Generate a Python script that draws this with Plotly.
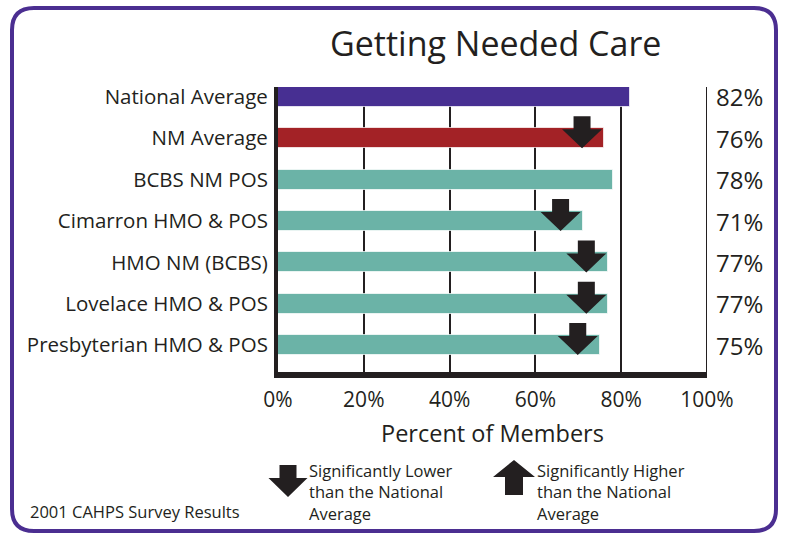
import plotly.graph_objects as go

# ---------------- data ----------------
categories = ["National Average", "NM Average", "BCBS NM POS", "Cimarron HMO & POS",
              "HMO NM (BCBS)", "Lovelace HMO & POS", "Presbyterian HMO & POS"]
values = [82, 76, 78, 71, 77, 77, 75]
flags = ["", "down", "", "down", "down", "down", "down"]
bar_colors = ["#472F92", "#A32226", "#6BB3A7", "#6BB3A7", "#6BB3A7", "#6BB3A7", "#6BB3A7"]
x_tick_vals = [0, 20, 40, 60, 80, 100]
x_tick_labels = ["0%", "20%", "40%", "60%", "80%", "100%"]
title_text = "Getting Needed Care"
x_title = "Percent of Members"
legend_lower = ["Significantly Lower", "than the National", "Average"]
legend_higher = ["Significantly Higher", "than the National", "Average"]
footnote = "2001 CAHPS Survey Results"

FONT = "Open Sans, sans-serif"
INK = "#231F20"
PURPLE = "#4B2E91"

ypos = list(range(len(categories)))

fig = go.Figure()
fig.add_trace(go.Bar(
    x=values, y=ypos, orientation="h", width=0.48,
    marker=dict(color=bar_colors, line=dict(color="rgba(255,255,255,0.7)", width=1)),
    hoverinfo="skip", showlegend=False,
))

shapes = []


def down_arrow(cx, tip, base, top, hw, sw):
    return (f"M{cx-sw},{top} L{cx+sw},{top} L{cx+sw},{base} L{cx+hw},{base} "
            f"L{cx},{tip} L{cx-hw},{base} L{cx-sw},{base} Z")


def up_arrow(cx, tip, base, bottom, hw, sw):
    return (f"M{cx-sw},{bottom} L{cx+sw},{bottom} L{cx+sw},{base} L{cx+hw},{base} "
            f"L{cx},{tip} L{cx-hw},{base} L{cx-sw},{base} Z")


# right frame line at the 100% end of the axis
shapes.append(dict(type="line", xref="x", x0=x_tick_vals[-1], x1=x_tick_vals[-1],
                   yref="paper", y0=0, y1=1, line=dict(color=INK, width=2), layer="below"))

for yi, v, f in zip(ypos, values, flags):
    if f == "down":
        shapes.append(dict(type="path", xref="x", yref="y",
                           xsizemode="pixel", ysizemode="pixel",
                           xanchor=v, yanchor=yi,
                           path=down_arrow(-22, -10, 9, 22, 20, 8.5),
                           fillcolor=INK, line=dict(width=0)))

# legend arrows (pixel offsets from plot bottom-left corner)
shapes.append(dict(type="path", xref="paper", yref="paper",
                   xsizemode="pixel", ysizemode="pixel", xanchor=0, yanchor=0,
                   path=down_arrow(10, -125, -106, -93, 19.5, 8.5),
                   fillcolor=INK, line=dict(width=0)))
shapes.append(dict(type="path", xref="paper", yref="paper",
                   xsizemode="pixel", ysizemode="pixel", xanchor=0, yanchor=0,
                   path=up_arrow(236, -88, -105, -123, 21, 9),
                   fillcolor=INK, line=dict(width=0)))

# rounded border
L, R, T, B, r = -266, 498, 364, -159, 22
border = (f"M{L+r},{T} L{R-r},{T} Q{R},{T} {R},{T-r} L{R},{B+r} Q{R},{B} {R-r},{B} "
          f"L{L+r},{B} Q{L},{B} {L},{B+r} L{L},{T-r} Q{L},{T} {L+r},{T} Z")
shapes.append(dict(type="path", xref="paper", yref="paper",
                   xsizemode="pixel", ysizemode="pixel", xanchor=0, yanchor=0,
                   path=border, line=dict(color=PURPLE, width=4)))

annotations = []
for yi, v in zip(ypos, values):
    annotations.append(dict(text=f"{v}%", xref="paper", x=1, xshift=7, xanchor="left",
                            yref="y", y=yi, yanchor="middle", showarrow=False,
                            font=dict(family=FONT, size=24, color=INK)))
annotations.append(dict(text=title_text, xref="paper", x=0.5, xshift=3, xanchor="center",
                        yref="paper", y=1, yshift=44, yanchor="middle", showarrow=False,
                        font=dict(family=FONT, size=34, color=INK)))
annotations.append(dict(text=x_title, xref="paper", x=0.5, xanchor="center",
                        yref="paper", y=0, yshift=-61, yanchor="middle", showarrow=False,
                        font=dict(family=FONT, size=23.5, color=INK)))
annotations.append(dict(text="<br>".join(legend_lower), xref="paper", x=0, xshift=29,
                        xanchor="left", yref="paper", y=0, yshift=-85, yanchor="top",
                        align="left", showarrow=False,
                        font=dict(family=FONT, size=16.5, color=INK)))
annotations.append(dict(text="<br>".join(legend_higher), xref="paper", x=0, xshift=257,
                        xanchor="left", yref="paper", y=0, yshift=-85, yanchor="top",
                        align="left", showarrow=False,
                        font=dict(family=FONT, size=16.5, color=INK)))
annotations.append(dict(text=footnote, xref="paper", x=0, xshift=-250, xanchor="left",
                        yref="paper", y=0, yshift=-139, yanchor="middle", align="left",
                        showarrow=False, font=dict(family=FONT, size=16.5, color=INK)))

fig.update_layout(
    width=785, height=537,
    margin=dict(l=278, r=78, t=87, b=165),
    paper_bgcolor="white", plot_bgcolor="white",
    bargap=0,
    shapes=shapes, annotations=annotations,
    xaxis=dict(range=[0, 100], tickvals=x_tick_vals, ticktext=x_tick_labels,
               showgrid=True, gridcolor=INK, gridwidth=2, zeroline=False,
               showline=True, linecolor=INK, linewidth=6, ticks="",
               ticklabelstandoff=4,
               tickfont=dict(family=FONT, size=21, color=INK), fixedrange=True),
    yaxis=dict(range=[6.65, -0.24], tickvals=ypos, ticktext=categories,
               showgrid=False, zeroline=False, showline=True, linecolor=INK, linewidth=4,
               ticks="", ticklabelstandoff=2,
               tickfont=dict(family=FONT, size=20.5, color=INK), fixedrange=True),
)

fig.write_html("out.html")
